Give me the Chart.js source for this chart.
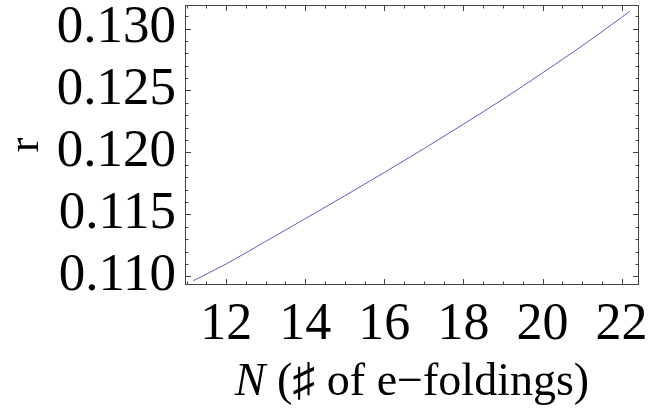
<!DOCTYPE html>
<html>
<head>
<meta charset="utf-8">
<script src="https://cdn.jsdelivr.net/npm/chart.js@4.4.1/dist/chart.umd.min.js"></script>
<style>
  html, body { margin: 0; padding: 0; background: #fff; }
  #wrap { width: 650px; height: 411px; position: relative; }
</style>
</head>
<body>
<div id="wrap"><canvas id="rChart"></canvas></div>
<script>
// N (e-foldings) and r
const nValues = [11.17, 12, 13, 14, 15, 16, 17, 18, 19, 20, 21, 22, 22.21];
const rValues = [0.10965, 0.1110, 0.11282, 0.11465, 0.1165, 0.11838, 0.1203, 0.12228, 0.1243, 0.12642, 0.1286, 0.1309, 0.1314];

const xTicks = [12, 14, 16, 18, 20, 22];
const yTicks = [0.110, 0.115, 0.120, 0.125, 0.130];

const frameColor = '#444';
const serif = "'Liberation Serif', 'DejaVu Serif', serif";

// frame with inward ticks on all four sides (mathematica style)
const frameTicks = {
    id: 'frameTicks',
    afterDraw(chart) {
        const ctx = chart.ctx;
        const a = chart.chartArea;
        const xs = chart.scales.x, ys = chart.scales.y;
        ctx.save();
        ctx.strokeStyle = frameColor;
        ctx.lineWidth = 1;
        ctx.strokeRect(a.left + 0.5, a.top + 0.5, a.right - a.left - 1, a.bottom - a.top - 1);
        ctx.beginPath();
        // x ticks, minor every 0.5
        for (let v = 11; v <= 22.4; v += 0.5) {
            const px = Math.round(xs.getPixelForValue(v)) + 0.5;
            const len = Math.abs(v % 2) < 1e-6 ? 6 : 3.5;
            ctx.moveTo(px, a.bottom); ctx.lineTo(px, a.bottom - len);
            ctx.moveTo(px, a.top); ctx.lineTo(px, a.top + len);
        }
        // y ticks, minor every 0.001
        for (let i = 110; i <= 131; i++) {
            const py = Math.round(ys.getPixelForValue(i / 1000)) + 0.5;
            const len = i % 5 === 0 ? 6 : 3.5;
            ctx.moveTo(a.left, py); ctx.lineTo(a.left + len, py);
            ctx.moveTo(a.right, py); ctx.lineTo(a.right - len, py);
        }
        ctx.stroke();

        // x axis title with italic N
        const cy = 383;
        const cx = (a.left + a.right) / 2;
        ctx.fillStyle = '#000';
        ctx.textBaseline = 'middle';
        const partN = 'N';
        const rest = ' (\u266F of e\u2212foldings)';
        ctx.font = 'italic 46px ' + serif;
        const wN = ctx.measureText(partN).width;
        ctx.font = '46px ' + serif;
        const wR = ctx.measureText(rest).width;
        let x0 = cx - (wN + wR) / 2;
        ctx.textAlign = 'left';
        ctx.font = 'italic 46px ' + serif;
        ctx.fillText(partN, x0, cy);
        ctx.font = '46px ' + serif;
        ctx.fillText(rest, x0 + wN, cy);
        ctx.restore();
    }
};

new Chart(document.getElementById('rChart'), {
    type: 'line',
    data: {
        datasets: [{
            data: nValues.map((n, i) => ({ x: n, y: rValues[i] })),
            borderColor: '#5b5bbf',
            borderWidth: 1,
            pointRadius: 0,
            fill: false,
            cubicInterpolationMode: 'monotone'
        }]
    },
    options: {
        responsive: true,
        maintainAspectRatio: false,
        animation: false,
        layout: { padding: { left: 0, right: 11, top: 5, bottom: 0 } },
        plugins: {
            legend: { display: false },
            tooltip: { enabled: false }
        },
        scales: {
            x: {
                type: 'linear',
                min: 10.96,
                max: 22.44,
                afterBuildTicks: s => { s.ticks = xTicks.map(v => ({ value: v })); },
                afterFit: s => { s.height = 126; s.paddingLeft = 0; s.paddingRight = 0; },
                grid: { display: false, drawTicks: false },
                border: { display: false },
                ticks: {
                    color: '#000',
                    padding: 9,
                    maxRotation: 0,
                    autoSkip: false,
                    font: { family: serif, size: 52 },
                    callback: v => String(v)
                }
            },
            y: {
                type: 'linear',
                min: 0.1093,
                max: 0.1319,
                afterBuildTicks: s => { s.ticks = yTicks.map(v => ({ value: v })); },
                afterFit: s => { s.width = 185; s.paddingTop = 0; s.paddingBottom = 0; },
                grid: { display: false, drawTicks: false },
                border: { display: false },
                title: {
                    display: true,
                    text: 'r',
                    color: '#000',
                    font: { family: serif, size: 44 },
                    padding: { top: 0, bottom: 0 }
                },
                ticks: {
                    color: '#000',
                    padding: 9,
                    autoSkip: false,
                    font: { family: serif, size: 53 },
                    callback: v => v.toFixed(3)
                }
            }
        }
    },
    plugins: [frameTicks]
});
</script>
</body>
</html>
